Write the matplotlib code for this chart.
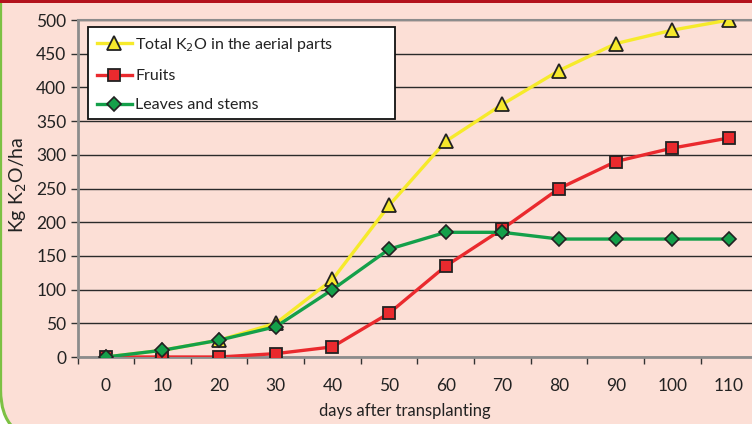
import matplotlib.pyplot as plt
from matplotlib.patches import FancyBboxPatch, Rectangle
from matplotlib.lines import Line2D

days = [0, 10, 20, 30, 40, 50, 60, 70, 80, 90, 100, 110]
total_k2o = [0, 10, 25, 50, 115, 225, 320, 375, 425, 465, 485, 500]
fruits = [0, 0, 0, 5, 15, 65, 135, 190, 250, 290, 310, 325]
leaves_stems = [0, 10, 25, 45, 100, 160, 185, 185, 175, 175, 175, 175]

bg = '#fcdfd6'
plt.rcParams['font.family'] = ['Lato', 'DejaVu Sans']

W, H = 752, 424
fig = plt.figure(figsize=(W / 100, H / 100), dpi=100, facecolor='white')

# page panel: pink fill, green rounded border, dark red strip on top
fig.add_artist(FancyBboxPatch((0.6 / W, -16 / H), 1.5, 1.5, transform=fig.transFigure,
                              boxstyle='round,pad=0,rounding_size=%f' % (50 / W),
                              fc=bg, ec='#7cc143', lw=2.2, zorder=-2,
                              mutation_aspect=W / H))
fig.add_artist(plt.Rectangle((0, 1 - 2.5 / H), 1, 0.01, transform=fig.transFigure,
                             color='#b3131d', lw=0, zorder=5))

x = list(range(len(days)))
ax_w = 757.4 - 77.5
ax = fig.add_axes([77.5 / W, (H - 357) / H, ax_w / W, 337 / H])
ax.set_facecolor(bg)
ax.set_xlim(-0.5, len(days) - 0.5)
ax.set_ylim(0, 500)

ax.set_yticks(range(0, 501, 50))
ax.yaxis.grid(True, color='#2a2a2a', lw=1.0)
ax.set_axisbelow(True)
ax.tick_params(axis='y', direction='out', length=5, width=1, color='#333333',
               labelsize=12.5, labelcolor='#222222', pad=3)

# category axis: labels in the middle, ticks on the boundaries
ax.set_xticks(x)
ax.set_xticklabels([str(d) for d in days])
ax.set_xticks([i - 0.5 for i in range(len(days) + 1)], minor=True)
ax.tick_params(axis='x', which='major', length=0, labelsize=12.5,
               labelcolor='#222222', pad=15)
ax.tick_params(axis='x', which='minor', direction='out', length=5, width=1,
               color='#333333')

for side in ['left', 'bottom', 'top']:
    ax.spines[side].set_color('#8c8c8c')
ax.spines['left'].set_linewidth(2)
ax.spines['bottom'].set_linewidth(2)
ax.spines['top'].set_linewidth(1.5)
ax.spines['right'].set_visible(False)

ax.plot(x, total_k2o, color='#f6ea2a', lw=2.4, marker='^', ms=10,
        mfc='#f6e82c', mec='#222222', mew=1.3, zorder=3)
ax.plot(x, fruits, color='#ea2a2e', lw=2.4, marker='s', ms=8.5,
        mfc='#ea2a2e', mec='#222222', mew=1.3, zorder=4)
ax.plot(x, leaves_stems, color='#14a04a', lw=2.4, marker='D', ms=7,
        mfc='#14a04a', mec='#222222', mew=1.2, zorder=4.5)

handles = [
    Line2D([], [], color='#f6ea2a', lw=2.4, marker='^', ms=10, mfc='#f6e82c',
           mec='#222222', mew=1.3),
    Line2D([], [], color='#ea2a2e', lw=2.4, marker='s', ms=8.5, mfc='#ea2a2e',
           mec='#222222', mew=1.3),
    Line2D([], [], color='#14a04a', lw=2.4, marker='D', ms=7, mfc='#14a04a',
           mec='#222222', mew=1.2),
]
labels = ['Total K$_2$O in the aerial parts', 'Fruits', 'Leaves and stems']

# legend box drawn separately so it can be wider than its text
ax.add_patch(Rectangle(((88 - 77.5) / ax_w, (357 - 119) / 337),
                       (395 - 88) / ax_w, 92 / 337, transform=ax.transAxes,
                       fc='white', ec='#111111', lw=1.3, zorder=4.8))
leg = ax.legend(handles, labels, loc='upper left',
                bbox_to_anchor=((88 - 77.5) / ax_w, (357 - 27) / 337),
                borderaxespad=0, fontsize=11.5, frameon=False,
                handlelength=2.2, handletextpad=0.2, labelspacing=0.95,
                borderpad=0.55)
for t in leg.get_texts():
    t.set_color('#222222')

fig.text(18 / W, (H - 185) / H, 'Kg K$_2$O/ha', rotation=90,
         ha='center', va='center', fontsize=14, color='#222222')
fig.text(405 / W, (H - 411) / H, 'days after transplanting',
         ha='center', va='center', fontsize=12, color='#222222')

fig.savefig('out.png', dpi=100, facecolor='white')
